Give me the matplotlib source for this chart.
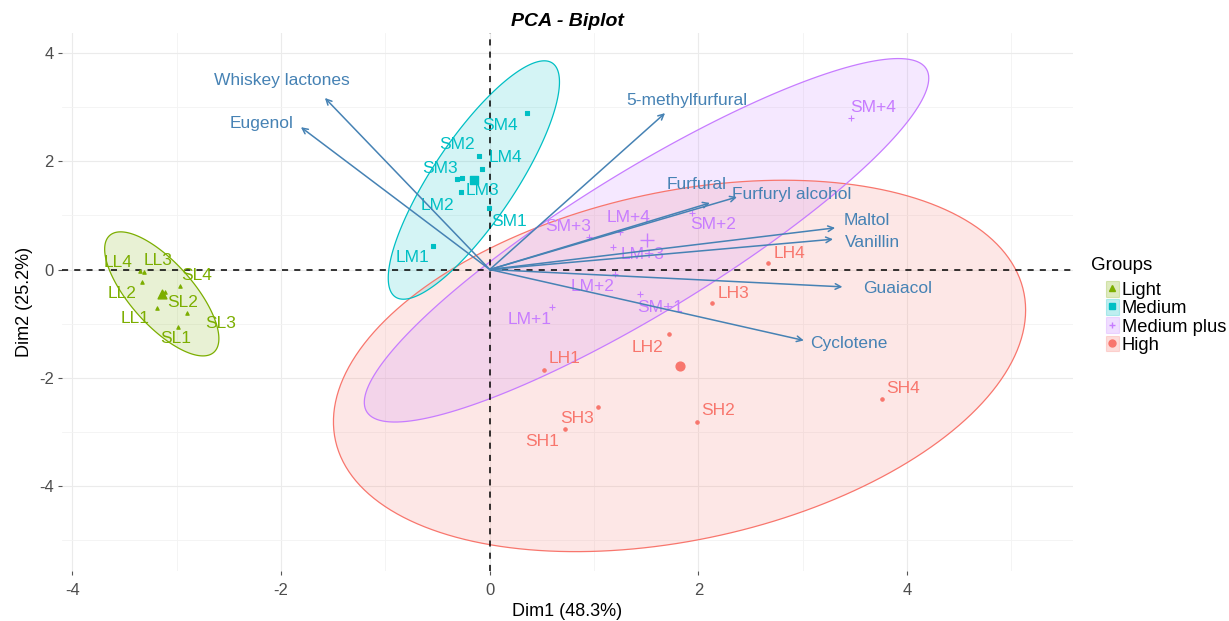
import numpy as np
import matplotlib
matplotlib.use("Agg")
import matplotlib.pyplot as plt
from matplotlib.patches import Patch, Polygon
from matplotlib.lines import Line2D
from matplotlib.legend_handler import HandlerTuple

plt.rcParams['font.family'] = ['Liberation Sans', 'DejaVu Sans']
plt.rcParams['axes.unicode_minus'] = False

# Individuals: scores on Dim1 / Dim2, one block per roasting group
light_names = ["LL4", "LL3", "SL4", "LL2", "SL2", "LL1", "SL3", "SL1"]
light_dim1 = [-3.35, -3.31, -2.97, -3.33, -3.11, -3.19, -2.90, -2.99]
light_dim2 = [-0.03, -0.05, -0.30, -0.23, -0.42, -0.71, -0.80, -1.06]

medium_names = ["SM4", "SM2", "LM4", "SM3", "LM3", "LM2", "SM1", "LM1"]
medium_dim1 = [0.36, -0.10, -0.07, -0.31, -0.27, -0.28, -0.01, -0.54]
medium_dim2 = [2.90, 2.10, 1.86, 1.67, 1.69, 1.43, 1.14, 0.44]

mplus_names = ["SM+4", "SM+2", "SM+3", "LM+4", "LM+3", "LM+2", "SM+1", "LM+1"]
mplus_dim1 = [3.46, 1.94, 0.95, 1.25, 1.18, 1.20, 1.44, 0.60]
mplus_dim2 = [2.80, 1.05, 0.60, 0.69, 0.42, -0.08, -0.46, -0.70]

high_names = ["LH4", "LH3", "LH2", "LH1", "SH3", "SH1", "SH2", "SH4"]
high_dim1 = [2.67, 2.13, 1.72, 0.52, 1.04, 0.72, 1.99, 3.76]
high_dim2 = [0.12, -0.62, -1.20, -1.85, -2.54, -2.95, -2.82, -2.39]

# Variables (loadings arrows)
var_names = ["Whiskey lactones", "Eugenol", "5-methylfurfural", "Furfural",
             "Furfuryl alcohol", "Maltol", "Vanillin", "Guaiacol", "Cyclotene"]
var_dim1 = [-1.58, -1.81, 1.68, 2.11, 2.37, 3.31, 3.29, 3.38, 3.01]
var_dim2 = [3.17, 2.63, 2.89, 1.23, 1.34, 0.77, 0.56, -0.32, -1.31]

group_names = ["Light", "Medium", "Medium plus", "High"]

axis_ticks = [-4, -2, 0, 2, 4]
axis_tick_labels = ["-4", "-2", "0", "2", "4"]

# label placement (pixel offsets from the point)
ind_offsets = {
    "LL4": (-22, 9), "LL3": (14, 12), "SL4": (17, 10), "LL2": (-20, -12),
    "SL2": (17, -10), "LL1": (-22, -11), "SL3": (33, -11), "SL1": (-2, -12),
    "SM4": (-27, -13), "SM2": (-22, 11), "LM4": (23, 11), "SM3": (-17, 11),
    "LM3": (21, -12), "LM2": (-23, -13), "SM1": (20, -14), "LM1": (-21, -12),
    "SM+4": (22, 10), "SM+2": (21, -12), "SM+3": (-21, 11), "LM+4": (8, 15),
    "LM+3": (30, -8), "LM+2": (-22, -13), "SM+1": (20, -13), "LM+1": (-23, -12),
    "LH4": (21, 10), "LH3": (21, 10), "LH2": (-22, -13), "LH1": (21, 11),
    "SH3": (-21, -11), "SH1": (-23, -12), "SH2": (21, 12), "SH4": (21, 10),
}
var_offsets = {
    "Whiskey lactones": (-43, 17), "Eugenol": (-39, 4), "5-methylfurfural": (22, 13),
    "Furfural": (-13, 18), "Furfuryl alcohol": (55, 2), "Maltol": (32, 7),
    "Vanillin": (39, -3), "Guaiacol": (55, -2), "Cyclotene": (45, -3),
}

colors = {"Light": "#7CAE00", "Medium": "#00BFC4", "Medium plus": "#C77CFF", "High": "#F8766D"}
markers = {"Light": "^", "Medium": "s", "Medium plus": "+", "High": "o"}
arrow_col = "#4682B4"

groups = {
    "Light": (light_names, light_dim1, light_dim2),
    "Medium": (medium_names, medium_dim1, medium_dim2),
    "Medium plus": (mplus_names, mplus_dim1, mplus_dim2),
    "High": (high_names, high_dim1, high_dim2),
}


def norm_ellipse(x, y, level=0.95, segments=200):
    # same construction as ggplot2 stat_ellipse(type = "norm")
    pts = np.column_stack([x, y])
    n = len(pts)
    center = pts.mean(axis=0)
    shape = np.cov(pts, rowvar=False)
    dfd = n - 1
    fq = dfd / 2 * ((1 - level) ** (-2 / dfd) - 1)  # qf(level, 2, dfd)
    radius = np.sqrt(2 * fq)
    t = np.linspace(0, 2 * np.pi, segments)
    circle = np.column_stack([np.cos(t), np.sin(t)])
    chol = np.linalg.cholesky(shape).T
    return center + radius * circle @ chol


fig = plt.figure(figsize=(12.29, 6.21), dpi=100)
ax = fig.add_axes([62 / 1229, 1 - 571 / 621, (1073 - 62) / 1229, (571 - 33) / 621])

ax.set_xlim(-4.10, 5.59)
ax.set_ylim(-5.57, 4.37)

# grid like theme_minimal
ax.set_xticks(axis_ticks)
ax.set_xticklabels(axis_tick_labels)
ax.set_yticks(axis_ticks)
ax.set_yticklabels(axis_tick_labels)
ax.set_xticks([-3, -1, 1, 3, 5], minor=True)
ax.set_yticks([-5, -3, -1, 1, 3], minor=True)
ax.grid(which="major", color="#EBEBEB", lw=0.8)
ax.grid(which="minor", color="#F3F3F3", lw=0.6)
ax.set_axisbelow(True)
for s in ax.spines.values():
    s.set_visible(False)
ax.tick_params(which="major", length=3, width=0.8, color="#555555",
               labelsize=12, labelcolor="#4D4D4D")
ax.tick_params(axis="x", which="major", pad=5.5)
ax.tick_params(axis="y", which="major", pad=3)
ax.tick_params(which="minor", length=0)

# ellipses
draw_order = ["High", "Light", "Medium", "Medium plus"]
for g in draw_order:
    names, d1, d2 = groups[g]
    e = norm_ellipse(d1, d2)
    ax.add_patch(Polygon(e, closed=True, facecolor=colors[g], alpha=0.17, lw=0, zorder=1))
    ax.add_patch(Polygon(e, closed=True, fill=False, edgecolor=colors[g], lw=0.9, zorder=2))

ax.axhline(0, color="black", lw=1.1, ls=(0, (4, 4)), zorder=3)
ax.axvline(0, color="black", lw=1.1, ls=(0, (4, 4)), zorder=3)

# individuals, group means and labels
for g in draw_order:
    names, d1, d2 = groups[g]
    ax.scatter(d1, d2, marker=markers[g], s=6 if markers[g] != "+" else 18,
               color=colors[g], lw=0.8, zorder=4)
    ax.scatter([np.mean(d1)], [np.mean(d2)], marker=markers[g],
               s=40 if markers[g] != "+" else 90, color=colors[g], lw=1.0, zorder=4)
    for nm, x, y in zip(names, d1, d2):
        ax.annotate(nm, (x, y), xytext=ind_offsets[nm], textcoords="offset pixels",
                    ha="center", va="center", fontsize=12.5, color=colors[g], zorder=5)

# variable arrows
for nm, x, y in zip(var_names, var_dim1, var_dim2):
    ax.annotate("", xy=(x, y), xytext=(0, 0),
                arrowprops=dict(arrowstyle="->", color=arrow_col, lw=1.1,
                                shrinkA=0, shrinkB=0, mutation_scale=10), zorder=6)
    ax.annotate(nm, (x, y), xytext=var_offsets[nm], textcoords="offset pixels",
                ha="center", va="center", fontsize=12.5, color=arrow_col, zorder=6)

ax.set_title("PCA - Biplot", fontsize=14, fontweight="bold", fontstyle="italic", pad=5)
ax.set_xlabel("Dim1 (48.3%)", fontsize=13, labelpad=4)
ax.set_ylabel("Dim2 (25.2%)", fontsize=13, labelpad=4)

# legend: coloured key box with the group marker inside
handles = []
for g in group_names:
    box = Patch(facecolor=colors[g], alpha=0.25, edgecolor=colors[g], lw=0.8)
    mk = Line2D([], [], marker=markers[g], color=colors[g], ls="", ms=5, mew=1)
    handles.append((box, mk))
fig.text(1091 / 1229, 1 - 265 / 621, "Groups", fontsize=13.5, ha="left", va="center")
fig.legend(handles, group_names, loc="upper left",
           bbox_to_anchor=(1106 / 1229, 1 - 281 / 621),
           handler_map={tuple: HandlerTuple(ndivide=1)},
           fontsize=13.2, frameon=False,
           handlelength=0.7, handleheight=0.95, labelspacing=0.0,
           handletextpad=0.15, borderpad=0, borderaxespad=0)

fig.savefig("out.png", dpi=100)
